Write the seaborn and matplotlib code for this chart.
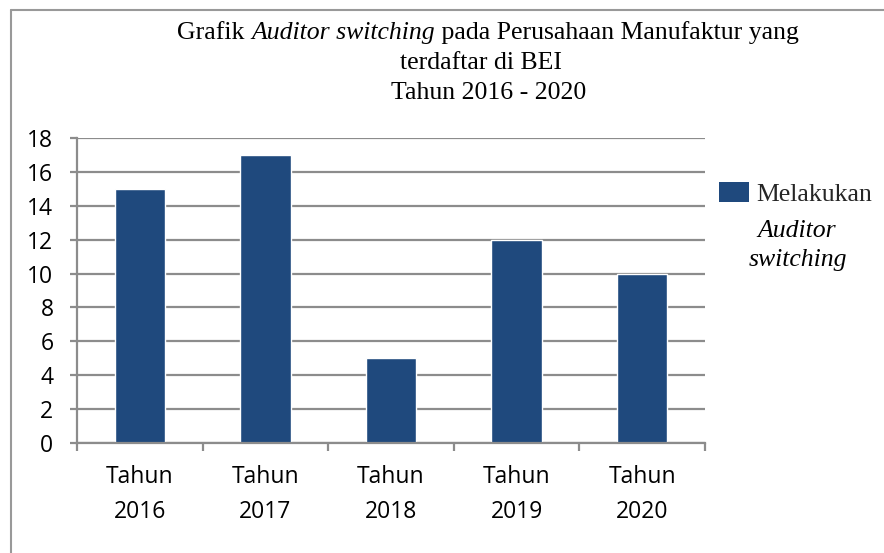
import matplotlib
matplotlib.use("Agg")
import matplotlib.pyplot as plt
import seaborn as sns
import pandas as pd
from matplotlib.lines import Line2D
from matplotlib.patches import Patch

categories = ["Tahun\n2016", "Tahun\n2017", "Tahun\n2018", "Tahun\n2019", "Tahun\n2020"]
values = [15, 17, 5, 12, 10]
series_name = "Melakukan"
yticks = [0, 2, 4, 6, 8, 10, 12, 14, 16, 18]

sns.set_theme(style="white")
plt.rcParams['font.family'] = ['Open Sans', 'DejaVu Sans']

W, H = 884, 553
fig = plt.figure(figsize=(W / 100, H / 100), dpi=100)
ax = fig.add_axes([77 / W, 1 - 443 / H, (705 - 77) / W, (443 - 138) / H])

df = pd.DataFrame({"cat": categories, "val": values})
sns.barplot(data=df, x="cat", y="val", color="#1F497D", saturation=1, width=0.4, ax=ax)

ax.set_ylim(0, 18)
ax.set_xlim(-0.5, 4.5)
ax.set_yticks(yticks)
ax.set_yticklabels([str(v) for v in yticks])
ax.set_xlabel("")
ax.set_ylabel("")
grid_c = "#8c8c8c"
ax.yaxis.grid(True, color=grid_c, linewidth=1.6)
ax.set_axisbelow(True)
for s in ["top", "right"]:
    ax.spines[s].set_visible(False)
for s in ["left", "bottom"]:
    ax.spines[s].set_color(grid_c)
    ax.spines[s].set_linewidth(1.6)

lsize = 16.5
ax.tick_params(axis="y", which="major", left=True, length=5, width=1.6, color=grid_c,
               pad=12, labelsize=lsize, labelcolor="black")
ax.tick_params(axis="x", which="major", length=0, pad=16, labelsize=lsize, labelcolor="black")
for lbl in ax.get_xticklabels():
    lbl.set_linespacing(1.6)
ax.set_xticks([-0.5, 0.5, 1.5, 2.5, 3.5, 4.5], minor=True)
ax.tick_params(axis="x", which="minor", bottom=True, length=6, width=1.6, color=grid_c)

# figure border (left and top)
fig.add_artist(Line2D([11 / W, 11 / W], [0, 1 - 10 / H], transform=fig.transFigure,
                      color="#999999", linewidth=1.5))
fig.add_artist(Line2D([11 / W, 1], [1 - 10 / H, 1 - 10 / H], transform=fig.transFigure,
                      color="#999999", linewidth=1.5))

serif = "Liberation Serif"
tsize = 18.5

# Title line 1 with italic part, centered
fig.canvas.draw()
renderer = fig.canvas.get_renderer()
parts = [("Grafik ", "normal"), ("Auditor switching", "italic"),
         (" pada Perusahaan Manufaktur yang", "normal")]
texts = []
for s, st in parts:
    t = fig.text(0, 1 - 39 / H, s, family=serif, style=st, fontsize=tsize, ha="left",
                 va="baseline", color="black")
    texts.append(t)
widths = [t.get_window_extent(renderer).width for t in texts]
total = sum(widths)
x0 = 488 - total / 2
for t, w in zip(texts, widths):
    t.set_x(x0 / W)
    x0 += w
fig.text(481 / W, 1 - 69 / H, "terdaftar di BEI", family=serif, fontsize=tsize,
         ha="center", va="baseline", color="black")
fig.text(489 / W, 1 - 99 / H, "Tahun 2016 - 2020", family=serif, fontsize=tsize,
         ha="center", va="baseline", color="black")

# legend
handle = Patch(facecolor="#1F497D", edgecolor="none")
leg = fig.legend([handle], [series_name], loc="center left",
                 bbox_to_anchor=(719 / W, 1 - 194 / H), frameon=False,
                 handlelength=1.15, handleheight=0.85, handletextpad=0.3,
                 borderaxespad=0, borderpad=0,
                 prop={"family": serif, "size": tsize})
fig.text(797 / W, 1 - 237 / H, "Auditor", family=serif, style="italic", fontsize=tsize,
         ha="center", va="baseline", color="black")
fig.text(798 / W, 1 - 266 / H, "switching", family=serif, style="italic", fontsize=tsize,
         ha="center", va="baseline", color="black")

fig.savefig("out.png", dpi=100)
